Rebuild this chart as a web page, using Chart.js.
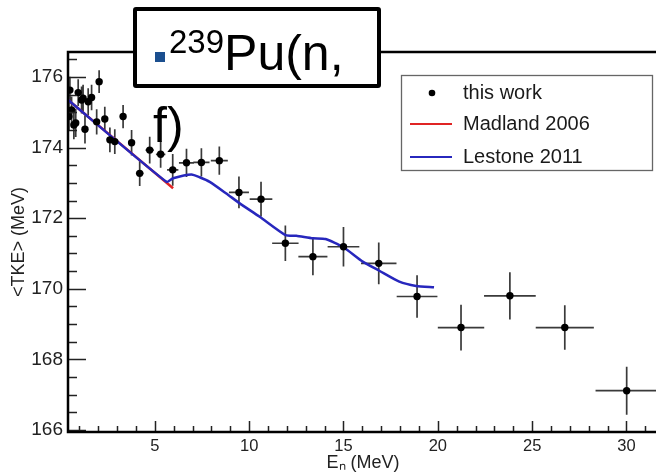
<!DOCTYPE html>
<html>
<head>
<meta charset="utf-8">
<script src="https://cdn.jsdelivr.net/npm/chart.js@4.4.1/dist/chart.umd.min.js"></script>
<style>
  html, body { margin:0; padding:0; overflow:hidden; background:#fff; }
  #wrap { position:relative; width:662px; height:472px; }
  #c { position:absolute; left:0; top:0; }
  #title {
    position:absolute; left:133px; top:7px; width:248px; height:81px;
    box-sizing:border-box; border:4px solid #000; border-radius:3px; background:#fff;
    font-family:"Liberation Sans", Arial, sans-serif; font-size:50px; line-height:66px;
    color:#000; padding:9px 0 0 16px; white-space:nowrap;
  }
  #title .sq { display:inline-block; width:10px; height:10px; background:#1b4f8f; position:relative; top:-8px; margin-left:2px; margin-right:4px; }
  #title .sup { font-size:33px; position:relative; top:-17px; }
</style>
</head>
<body>
<div id="wrap">
  <canvas id="c" width="662" height="472" style="width:662px;height:472px"></canvas>
  <div id="title"><span class="sq"></span><span class="sup">239</span>Pu(n,<br>f)</div>
</div>
<script>
// ---- data ----
const energies  = [0.45, 0.50, 0.59, 0.71, 0.81, 0.94, 1.12, 1.20, 1.30, 1.47, 1.65, 1.92, 2.05, 2.35, 2.62, 2.88, 3.32, 3.77, 4.20, 4.73, 5.31, 5.95, 6.68, 7.47, 8.42, 9.46, 10.63, 11.92, 13.38, 15.00, 16.87, 18.90, 21.23, 23.82, 26.73, 30.01];
const tke       = [174.88, 175.63, 175.07, 174.64, 174.70, 175.56, 175.35, 175.40, 174.52, 175.30, 175.42, 174.73, 175.87, 174.81, 174.22, 174.17, 174.88, 174.14, 173.27, 173.93, 173.81, 173.37, 173.57, 173.58, 173.63, 172.73, 172.54, 171.29, 170.91, 171.19, 170.72, 169.78, 168.90, 169.80, 168.90, 167.11];
const energyErr = [0.05, 0.05, 0.05, 0.05, 0.05, 0.05, 0.05, 0.05, 0.05, 0.05, 0.06, 0.07, 0.08, 0.10, 0.11, 0.12, 0.15, 0.18, 0.20, 0.22, 0.25, 0.30, 0.40, 0.43, 0.45, 0.53, 0.60, 0.70, 0.77, 0.84, 0.94, 1.08, 1.23, 1.37, 1.54, 1.65];
const tkeErr    = [0.38, 0.38, 0.38, 0.40, 0.40, 0.38, 0.38, 0.38, 0.40, 0.38, 0.36, 0.36, 0.32, 0.35, 0.35, 0.35, 0.33, 0.36, 0.36, 0.38, 0.38, 0.45, 0.40, 0.40, 0.40, 0.45, 0.49, 0.50, 0.53, 0.56, 0.59, 0.60, 0.65, 0.67, 0.63, 0.68];

const madlandE   = [0.41, 3.15, 5.97];
const madlandTKE = [175.35, 174.12, 172.85];

const lestoneE   = [0.41, 5.62, 5.97, 6.94, 7.38, 7.91, 8.79, 9.50, 10.56, 11.93, 12.50, 13.38, 14.05, 14.96, 16.02, 16.90, 17.96, 18.85, 19.80];
const lestoneTKE = [175.35, 173.03, 173.13, 173.24, 173.16, 173.03, 172.70, 172.42, 172.04, 171.52, 171.50, 171.43, 171.41, 171.19, 170.77, 170.51, 170.20, 170.08, 170.04];

const xTickValues = [5, 10, 15, 20, 25, 30];
const yTickValues = [166, 168, 170, 172, 174, 176];
const legendLabels = ['this work', 'Madland 2006', 'Lestone 2011'];

const FONT = '"Liberation Sans", Arial, sans-serif';
const RED = '#e02424', BLUE = '#2727bd';

const deco = {
  id: 'deco',
  beforeDatasetsDraw(chart) {
    const {ctx, chartArea: a, scales: {x, y}} = chart;
    ctx.save();
    ctx.beginPath(); ctx.rect(a.left, a.top, a.right - a.left, a.bottom - a.top); ctx.clip();
    ctx.strokeStyle = '#3a3a3a'; ctx.lineWidth = 1.7;
    ctx.beginPath();
    energies.forEach((e, i) => {
      const px = x.getPixelForValue(e), py = y.getPixelForValue(tke[i]);
      ctx.moveTo(x.getPixelForValue(e - energyErr[i]), py);
      ctx.lineTo(x.getPixelForValue(e + energyErr[i]), py);
      ctx.moveTo(px, y.getPixelForValue(tke[i] - tkeErr[i]));
      ctx.lineTo(px, y.getPixelForValue(tke[i] + tkeErr[i]));
    });
    ctx.stroke();
    ctx.restore();
  },
  afterDraw(chart) {
    const {ctx, chartArea: a, scales: {x, y}} = chart;
    ctx.save();
    // ticks (inward)
    ctx.strokeStyle = '#222'; ctx.lineWidth = 1.5;
    ctx.beginPath();
    for (let v = 166; v <= 176.6; v += 0.5) {
      const py = Math.round(y.getPixelForValue(v)) + 0.5;
      const len = yTickValues.includes(v) ? 18 : 9;
      ctx.moveTo(a.left, py); ctx.lineTo(a.left + len, py);
    }
    for (let v = 1; v <= 31; v += 1) {
      const px = Math.round(x.getPixelForValue(v)) + 0.5;
      const len = xTickValues.includes(v) ? 11 : 6;
      ctx.moveTo(px, a.bottom); ctx.lineTo(px, a.bottom - len);
    }
    ctx.stroke();
    // frame
    ctx.strokeStyle = '#000'; ctx.lineWidth = 2.5;
    ctx.strokeRect(a.left, a.top, a.right - a.left, a.bottom - a.top);
    // legend
    const lx = 401, ly = 75, lw = 251, lh = 95;
    ctx.fillStyle = '#fff'; ctx.fillRect(lx, ly, lw, lh);
    ctx.strokeStyle = '#666'; ctx.lineWidth = 1.3;
    ctx.strokeRect(lx + 0.5, ly + 0.5, lw, lh);
    const rows = [93, 124, 157];
    ctx.fillStyle = '#000';
    ctx.beginPath(); ctx.arc(432, rows[0], 3.3, 0, Math.PI * 2); ctx.fill();
    ctx.lineWidth = 2;
    ctx.strokeStyle = RED; ctx.beginPath(); ctx.moveTo(410, rows[1]); ctx.lineTo(452, rows[1]); ctx.stroke();
    ctx.strokeStyle = BLUE; ctx.beginPath(); ctx.moveTo(410, rows[2]); ctx.lineTo(452, rows[2]); ctx.stroke();
    ctx.fillStyle = '#1a1a1a';
    ctx.font = '20px ' + FONT; ctx.textBaseline = 'middle'; ctx.textAlign = 'left';
    legendLabels.forEach((t, i) => ctx.fillText(t, 463, rows[i]));
    ctx.restore();
  }
};

new Chart(document.getElementById('c'), {
  type: 'scatter',
  data: {
    datasets: [
      { label: legendLabels[0], data: energies.map((e, i) => ({x: e, y: tke[i]})),
        pointRadius: 3.7, pointBackgroundColor: '#000', pointBorderWidth: 0, showLine: false },
      { label: legendLabels[2], type: 'line', data: lestoneE.map((e, i) => ({x: e, y: lestoneTKE[i]})),
        borderColor: BLUE, borderWidth: 2.5, pointRadius: 0, tension: 0.2, fill: false },
      { label: legendLabels[1], type: 'line', data: madlandE.map((e, i) => ({x: e, y: madlandTKE[i]})),
        borderColor: RED, borderWidth: 2.5, pointRadius: 0, tension: 0, fill: false }
    ]
  },
  options: {
    responsive: false, animation: false, devicePixelRatio: 1,
    layout: { padding: { top: 52, right: 3, left: 0, bottom: 0 } },
    plugins: { legend: { display: false }, tooltip: { enabled: false } },
    scales: {
      x: {
        type: 'linear', min: 0.4, max: 31.67,
        afterBuildTicks: s => { s.ticks = xTickValues.map(v => ({value: v})); },
        afterFit: s => { s.height = 40; },
        grid: { display: false, drawTicks: false }, border: { display: false },
        ticks: { padding: 5, color: '#222', font: { family: FONT, size: 16.5 }, maxRotation: 0 },
        title: { display: true, text: 'Eₙ (MeV)', color: '#222', font: { family: FONT, size: 18, lineHeight: 1 }, padding: 0 }
      },
      y: {
        type: 'linear', min: 165.94, max: 176.71,
        afterBuildTicks: s => { s.ticks = yTickValues.map(v => ({value: v})); },
        afterFit: s => { s.width = 68; },
        grid: { display: false, drawTicks: false }, border: { display: false },
        ticks: { padding: 5, color: '#222', font: { family: FONT, size: 19 } },
        title: { display: true, text: '<TKE> (MeV)', color: '#222', font: { family: FONT, size: 18, lineHeight: 1.2 }, padding: { top: 8, bottom: 0 } }
      }
    }
  },
  plugins: [deco]
});
</script>
</body>
</html>
